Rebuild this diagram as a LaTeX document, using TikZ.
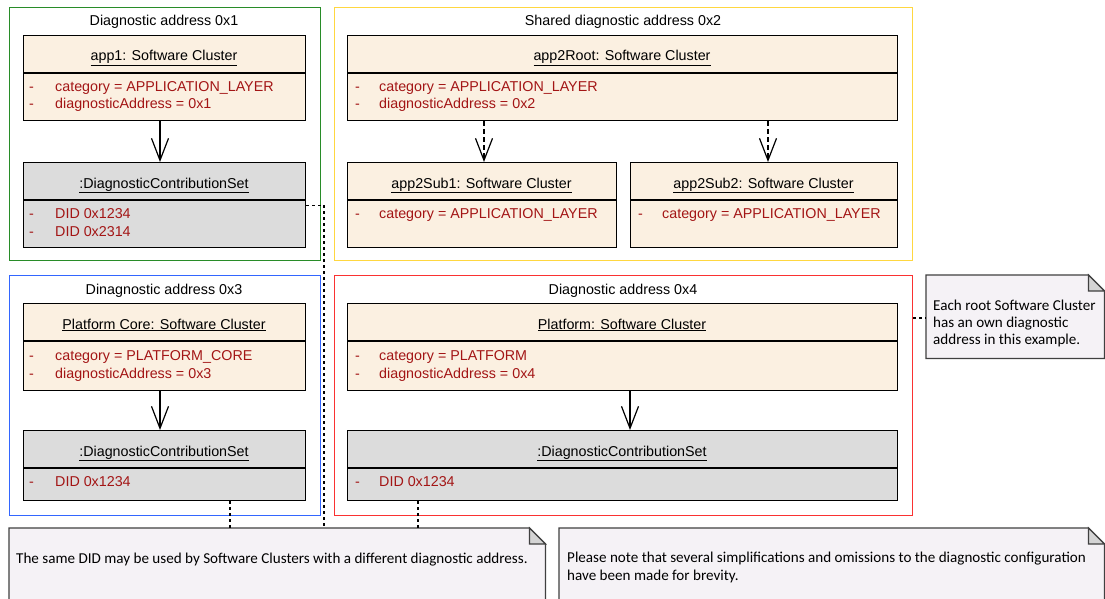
\documentclass[tikz,border=0pt]{standalone}
\usepackage{fontspec}
\setmainfont{Liberation Sans}
\newfontfamily\notefont{Carlito}
\usetikzlibrary{arrows.meta}
\definecolor{clscream}{RGB}{251,240,225}
\definecolor{dcsgray}{RGB}{220,220,220}
\definecolor{attrred}{RGB}{163,21,21}
\definecolor{frgreen}{RGB}{40,140,40}
\definecolor{fryellow}{RGB}{255,215,64}
\definecolor{frblue}{RGB}{51,102,255}
\definecolor{frred}{RGB}{250,50,50}
\definecolor{notefill}{RGB}{245,242,246}
\definecolor{foldfill}{RGB}{212,212,212}
\tikzset{
  mainfs/.style={font=\fontsize{14.3}{16}\selectfont},
  clsbox/.style={draw, line width=1.2pt, fill=clscream, anchor=north west, inner sep=0pt},
  dcsbox/.style={draw, line width=1.2pt, fill=dcsgray, anchor=north west, inner sep=0pt},
  framebox/.style={draw, line width=1.4pt, anchor=north west, inner sep=0pt},
  divider/.style={line width=1.2pt},
  nametxt/.style={mainfs, anchor=base, inner sep=0pt},
  titletxt/.style={mainfs, anchor=base, inner sep=0pt},
  attrtxt/.style={mainfs, anchor=base west, inner sep=0pt, text=attrred},
  notebody/.style={anchor=north west, inner sep=0pt},
  notetxt/.style={font=\notefont\fontsize{15.1}{17}\selectfont, anchor=base west, inner sep=0pt},
  noteline/.style={draw=black!75, line width=1.2pt, fill=notefill},
  solidarr/.style={line width=1.2pt, -{Straight Barb[length=22pt,width=17pt,line width=1.2pt]}},
  dasharr/.style={line width=1.2pt, dash pattern=on 5pt off 3pt, -{Straight Barb[length=22pt,width=17pt,line width=1.2pt]}},
  dashline/.style={line width=1.2pt, dash pattern=on 3pt off 3pt},
}
\begin{document}
\begin{tikzpicture}[x=1pt,y=-1pt]
\useasboundingbox (0,0) rectangle (1105,599);
\clip (0,0) rectangle (1105,599);
\fill[white] (0,0) rectangle (1105,599);

% frames
\node[framebox, draw=frgreen, minimum width=311pt, minimum height=253pt] (fgreen) at (9,7) {};
\node[framebox, draw=fryellow, minimum width=578pt, minimum height=253pt] (fyellow) at (334,7) {};
\node[framebox, draw=frblue, minimum width=311pt, minimum height=240pt] (fblue) at (9,275) {};
\node[framebox, draw=frred, minimum width=578pt, minimum height=240pt] (fred) at (334,275) {};
\node[titletxt] (tgreen) at (164,26) {Diagnostic address 0x1};
\node[titletxt] (tyellow) at (623,26) {Shared diagnostic address 0x2};
\node[titletxt] (tblue) at (164,294) {Dinagnostic address 0x3};
\node[titletxt] (tred) at (623,294) {Diagnostic address 0x4};

% app1
\node[clsbox, minimum width=282pt, minimum height=85pt] (app1) at (23,35) {};
\draw[divider] (app1.west |- 0,73) -- (app1.east |- 0,73);
\node[nametxt] (app1n) at (164,61) {\underline{app1: Software Cluster}};
\node[attrtxt] (app1d1) at (29,92) {-};
\node[attrtxt] (app1a1) at (55,92) {category = APPLICATION\_LAYER};
\node[attrtxt] (app1d2) at (29,109) {-};
\node[attrtxt] (app1a2) at (55,109) {diagnosticAddress = 0x1};

% dcs1
\node[dcsbox, minimum width=282pt, minimum height=85pt] (dcs1) at (23,162) {};
\draw[divider] (dcs1.west |- 0,200) -- (dcs1.east |- 0,200);
\node[nametxt] (dcs1n) at (164,188) {\underline{:DiagnosticContributionSet}};
\node[attrtxt] (dcs1d1) at (29,218) {-};
\node[attrtxt] (dcs1a1) at (55,218) {DID 0x1234};
\node[attrtxt] (dcs1d2) at (29,236) {-};
\node[attrtxt] (dcs1a2) at (55,236) {DID 0x2314};

% app2Root
\node[clsbox, minimum width=550pt, minimum height=85pt] (app2root) at (347,35) {};
\draw[divider] (app2root.west |- 0,73) -- (app2root.east |- 0,73);
\node[nametxt] (app2rootn) at (622,61) {\underline{app2Root: Software Cluster}};
\node[attrtxt] (app2rd1) at (355,92) {-};
\node[attrtxt] (app2ra1) at (379,92) {category = APPLICATION\_LAYER};
\node[attrtxt] (app2rd2) at (355,109) {-};
\node[attrtxt] (app2ra2) at (379,109) {diagnosticAddress = 0x2};

% app2Sub1
\node[clsbox, minimum width=269pt, minimum height=85pt] (sub1) at (347,162) {};
\draw[divider] (sub1.west |- 0,200) -- (sub1.east |- 0,200);
\node[nametxt] (sub1n) at (481.5,188) {\underline{app2Sub1: Software Cluster}};
\node[attrtxt] (sub1d1) at (355,218) {-};
\node[attrtxt] (sub1a1) at (379,218) {category = APPLICATION\_LAYER};

% app2Sub2
\node[clsbox, minimum width=267pt, minimum height=85pt] (sub2) at (630,162) {};
\draw[divider] (sub2.west |- 0,200) -- (sub2.east |- 0,200);
\node[nametxt] (sub2n) at (763.5,188) {\underline{app2Sub2: Software Cluster}};
\node[attrtxt] (sub2d1) at (638,218) {-};
\node[attrtxt] (sub2a1) at (662,218) {category = APPLICATION\_LAYER};

% Platform Core
\node[clsbox, minimum width=282pt, minimum height=87pt] (pcore) at (23,303) {};
\draw[divider] (pcore.west |- 0,341) -- (pcore.east |- 0,341);
\node[nametxt] (pcoren) at (164,329) {\underline{Platform Core: Software Cluster}};
\node[attrtxt] (pcored1) at (29,360) {-};
\node[attrtxt] (pcorea1) at (55,360) {category = PLATFORM\_CORE};
\node[attrtxt] (pcored2) at (29,378) {-};
\node[attrtxt] (pcorea2) at (55,378) {diagnosticAddress = 0x3};

% dcs3
\node[dcsbox, minimum width=282pt, minimum height=70pt] (dcs3) at (23,430) {};
\draw[divider] (dcs3.west |- 0,468) -- (dcs3.east |- 0,468);
\node[nametxt] (dcs3n) at (164,456) {\underline{:DiagnosticContributionSet}};
\node[attrtxt] (dcs3d1) at (29,486) {-};
\node[attrtxt] (dcs3a1) at (55,486) {DID 0x1234};

% Platform
\node[clsbox, minimum width=550pt, minimum height=87pt] (plat) at (347,303) {};
\draw[divider] (plat.west |- 0,341) -- (plat.east |- 0,341);
\node[nametxt] (platn) at (622,329) {\underline{Platform: Software Cluster}};
\node[attrtxt] (platd1) at (355,360) {-};
\node[attrtxt] (plata1) at (379,360) {category = PLATFORM};
\node[attrtxt] (platd2) at (355,378) {-};
\node[attrtxt] (plata2) at (379,378) {diagnosticAddress = 0x4};

% dcs4
\node[dcsbox, minimum width=550pt, minimum height=70pt] (dcs4) at (347,430) {};
\draw[divider] (dcs4.west |- 0,468) -- (dcs4.east |- 0,468);
\node[nametxt] (dcs4n) at (622,456) {\underline{:DiagnosticContributionSet}};
\node[attrtxt] (dcs4d1) at (355,486) {-};
\node[attrtxt] (dcs4a1) at (379,486) {DID 0x1234};

% arrows
\draw[solidarr] (160,0 |- app1.south) -- (160,0 |- dcs1.north);
\draw[solidarr] (160,0 |- pcore.south) -- (160,0 |- dcs3.north);
\draw[solidarr] (630,0 |- plat.south) -- (630,0 |- dcs4.north);
\draw[dasharr] (484,0 |- app2root.south) -- (484,0 |- sub1.north);
\draw[dasharr] (768,0 |- app2root.south) -- (768,0 |- sub2.north);

% notes
\node[notebody, minimum width=536pt, minimum height=82pt] (note1) at (9,528) {};
\node[notebody, minimum width=545pt, minimum height=82pt] (note2) at (559,528) {};
\node[notebody, minimum width=178pt, minimum height=83pt] (note3) at (926,275) {};
\foreach \n in {note1,note2,note3}{
  \draw[noteline] (\n.north west) -- ([xshift=-16pt]\n.north east) -- ([yshift=-16pt]\n.north east) -- (\n.south east) -- (\n.south west) -- cycle;
  \draw[noteline, fill=foldfill] ([xshift=-16pt]\n.north east) -- ([yshift=-16pt]\n.north east) -- ([xshift=-16pt,yshift=-16pt]\n.north east) -- cycle;
}
\node[notetxt] (note1t) at (16,563) {The same DID may be used by Software Clusters with a different diagnostic address.};
\node[notetxt] (note2t1) at (567,562) {Please note that several simplifications and omissions to the diagnostic configuration};
\node[notetxt] (note2t2) at (567,580) {have been made for brevity.};
\node[notetxt] (note3t1) at (933,310) {Each root Software Cluster};
\node[notetxt] (note3t2) at (933,327) {has an own diagnostic};
\node[notetxt] (note3t3) at (933,344) {address in this example.};

% note connectors
\draw[dashline] (dcs1.east) -| (324,0 |- note1.north);
\draw[dashline] (230,0 |- dcs3.south) -- (230,0 |- note1.north);
\draw[dashline] (418,0 |- dcs4.south) -- (418,0 |- note1.north);
\draw[dashline] (fred.east |- 0,318) -- (note3.west |- 0,318);
\end{tikzpicture}
\end{document}
